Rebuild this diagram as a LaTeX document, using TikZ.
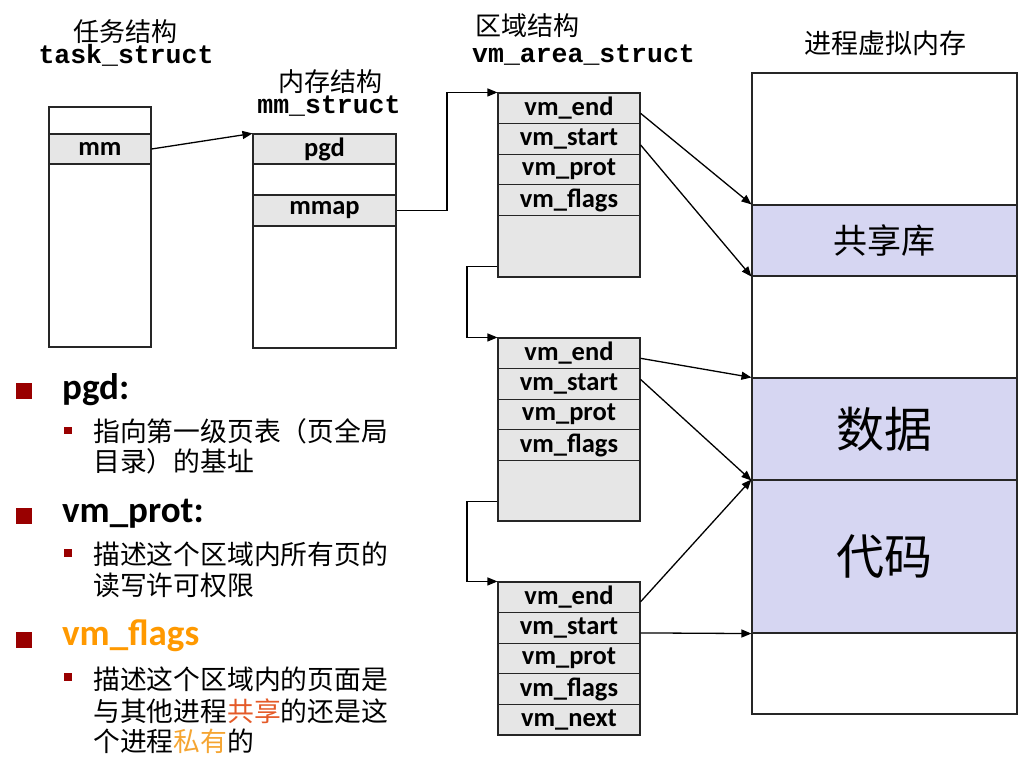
\documentclass[tikz,border=0pt]{standalone}
\usepackage{fontspec}
\setmainfont{Carlito}
\newfontfamily\cjk{Noto Sans CJK SC}
\newfontfamily\mono{Liberation Mono}
\usetikzlibrary{arrows.meta}
\definecolor{cellgray}{RGB}{230,230,230}
\definecolor{lav}{RGB}{214,214,242}
\definecolor{bulred}{RGB}{153,0,0}
\definecolor{flagorange}{RGB}{255,153,0}
\definecolor{sharered}{RGB}{228,90,40}
\definecolor{privorange}{RGB}{245,165,50}
\begin{document}
\begin{tikzpicture}[x=1pt,y=-1pt,
  cell/.style={draw=black!85, line width=1.1pt, inner sep=0pt},
  vmrow/.style={cell, fill=cellgray, minimum width=142pt, minimum height=30.6pt,
    font=\bfseries\fontsize{26.5}{26.5}\selectfont},
  memreg/.style={cell, minimum width=265pt},
  arr/.style={line width=1.3pt, -{Triangle[length=10pt,width=8pt]}},
  link/.style={line width=1.1pt, -{Triangle[length=10pt,width=8pt]}},
  cjklabel/.style={font=\cjk\fontsize{26}{26}\selectfont, inner sep=0pt, text height=0.8em, text depth=0pt, anchor=base},
  monolabel/.style={font=\mono\bfseries\fontsize{26.5}{26.5}\selectfont, inner sep=0pt, text height=0.55em, text depth=0.1em, anchor=base},
  bigbullet/.style={fill=bulred, inner sep=0pt, minimum width=16pt, minimum height=16pt},
  smallbullet/.style={fill=bulred, inner sep=0pt, minimum width=8pt, minimum height=7.5pt},
  head/.style={font=\bfseries\fontsize{37}{37}\selectfont, inner sep=0pt, anchor=base west},
  sub/.style={font=\cjk\fontsize{26.8}{26.8}\selectfont, inner sep=0pt, anchor=west}
]
\useasboundingbox (0,0) rectangle (1025,758);

% ---- titles
\node[cjklabel] (ttitle) at (125,41.5) {任务结构};
\node[monolabel] (tname) at (126,63.5) {task\_struct};
\node[cjklabel] (mtitle) at (330,91) {内存结构};
\node[monolabel] (mname) at (329,113) {mm\_struct};
\node[cjklabel, anchor=base west] (atitle) at (475,35) {区域结构};
\node[monolabel, anchor=base west] (aname) at (472,62.3) {vm\_area\_struct};
\node[cjklabel, font=\cjk\fontsize{27}{27}\selectfont] (ptitle) at (885,53) {进程虚拟内存};

% ---- task_struct
\node[cell, fill=white, minimum width=102pt, minimum height=27pt] (ttop) at (100,120.5) {};
\node[cell, fill=cellgray, minimum width=102pt, minimum height=30pt,
      font=\bfseries\fontsize{26.5}{26.5}\selectfont] (tmm) at (100,149) {mm};
\node[cell, fill=white, minimum width=102pt, minimum height=183pt] (trest) at (100,255.5) {};

% ---- mm_struct
\node[vmrow, minimum width=143pt, minimum height=30pt] (pgd) at (324.5,149) {pgd};
\node[cell, fill=white, minimum width=143pt, minimum height=31pt] (mgap) at (324.5,179.5) {};
\node[vmrow, minimum width=143pt, minimum height=31pt] (mmap) at (324.5,210.5) {mmap};
\node[cell, fill=white, minimum width=143pt, minimum height=122pt] (mrest) at (324.5,287) {};

% ---- vm_area_struct 1
\node[vmrow] (aend) at (569,108.3) {vm\_end};
\node[vmrow] (astart) at (569,138.9) {vm\_start};
\node[vmrow] (aprot) at (569,169.5) {vm\_prot};
\node[vmrow] (aflags) at (569,200.1) {vm\_flags};
\node[vmrow, minimum height=61.6pt] (aempty) at (569,246.2) {};

% ---- vm_area_struct 2
\node[vmrow] (bend) at (569,353.3) {vm\_end};
\node[vmrow] (bstart) at (569,383.9) {vm\_start};
\node[vmrow] (bprot) at (569,414.5) {vm\_prot};
\node[vmrow] (bflags) at (569,445.1) {vm\_flags};
\node[vmrow, minimum height=60.6pt] (bempty) at (569,490.7) {};

% ---- vm_area_struct 3
\node[vmrow] (cend) at (569,597.3) {vm\_end};
\node[vmrow] (cstart) at (569,627.9) {vm\_start};
\node[vmrow] (cprot) at (569,658.5) {vm\_prot};
\node[vmrow] (cflags) at (569,689.1) {vm\_flags};
\node[vmrow] (cnext) at (569,719.7) {vm\_next};

% ---- process virtual memory
\node[memreg, fill=white, minimum height=132pt] (memtop) at (884.5,139) {};
\node[memreg, fill=lav, minimum height=71pt, font=\cjk\fontsize{34}{34}\selectfont] (shared) at (884.5,240.5) {共享库};
\node[memreg, fill=white, minimum height=102pt] (memgap) at (884.5,327) {};
\node[memreg, fill=lav, minimum height=102pt, font=\cjk\fontsize{48}{48}\selectfont] (data) at (884.5,429) {数据};
\node[memreg, fill=lav, minimum height=153pt, font=\cjk\fontsize{48}{48}\selectfont] (code) at (884.5,556.5) {代码};
\node[memreg, fill=white, minimum height=81pt] (membot) at (884.5,673.5) {};

% ---- connectors
\coordinate (j1) at (447,0);
\coordinate (j2) at (467,0);
\coordinate (s1) at ([yshift=-20pt]aempty.west);
\coordinate (s2) at ([yshift=-10.5pt]bempty.west);

\draw[arr] (tmm.east) -- (pgd.north west);
\draw[link] (mmap.east) -- (mmap.east -| j1) |- (aend.north west);
\draw[link] (s1) -- (s1 -| j2) |- (bend.north west);
\draw[link] (s2) -- (s2 -| j2) |- (cend.north west);

\draw[arr] ([yshift=-5pt]aend.east) -- (shared.north west);
\draw[arr] ([yshift=-6pt]astart.east) -- (shared.south west);
\draw[arr] ([yshift=-5pt]bend.east) -- (data.north west);
\draw[arr] ([yshift=4.5pt]bstart.east) -- (data.south west);
\draw[arr] ([yshift=-4.5pt]cend.east) -- (code.north west);
\draw[arr] ([yshift=-5pt]cstart.east) -- (code.south west);

% ---- bullets
\node[bigbullet] (b1) at (24,391) {};
\node[head] (h1) at (62,399) {pgd:};
\node[smallbullet] (sb1) at (68,430.5) {};
\node[sub] (l11) at (93,431) {指向第一级页表（页全局};
\node[sub] (l12) at (93,461) {目录）的基址};

\node[bigbullet] (b2) at (24,515.5) {};
\node[head] (h2) at (62,522) {vm\_prot:};
\node[smallbullet] (sb2) at (68,553) {};
\node[sub] (l21) at (93,554) {描述这个区域内所有页的};
\node[sub] (l22) at (93,585) {读写许可权限};

\node[bigbullet] (b3) at (24,640) {};
\node[head, text=flagorange] (h3) at (62,645) {vm\_flags};
\node[smallbullet] (sb3) at (68,677) {};
\node[sub] (l31) at (93,679) {描述这个区域内的页面是};
\node[sub] (l32) at (93,711) {与其他进程\textcolor{sharered}{共享}的还是这};
\node[sub] (l33) at (93,741) {个进程\textcolor{privorange}{私有}的};
\end{tikzpicture}
\end{document}
